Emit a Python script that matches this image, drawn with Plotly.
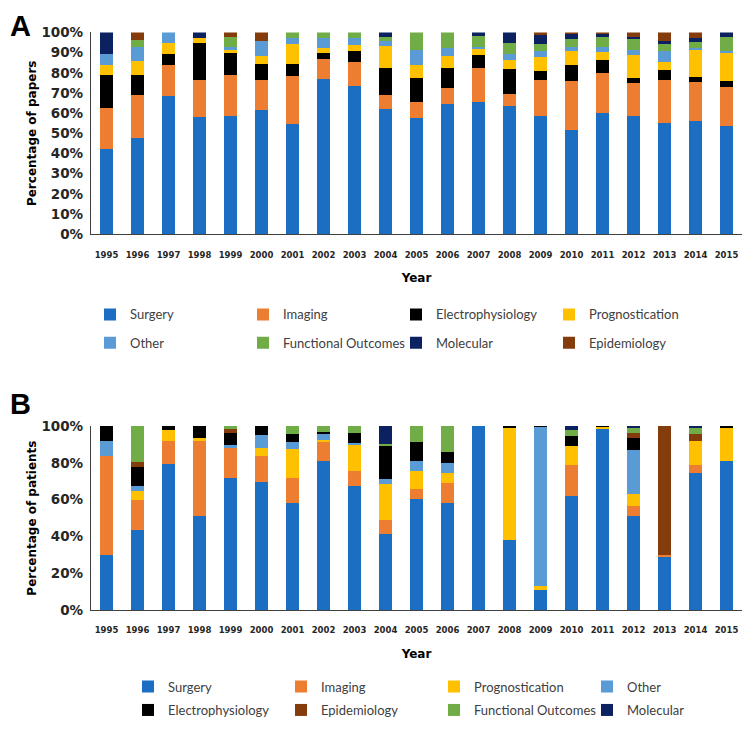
import plotly.graph_objects as go

years = [str(y) for y in range(1995, 2016)]

# Panel A - percentage of papers per topic (stack order bottom -> top)
papers_surgery = [42.0, 47.7, 68.3, 58.0, 58.6, 61.8, 54.7, 76.7, 73.5, 62.3, 57.4,
                  64.7, 65.5, 63.4, 58.6, 51.8, 60.2, 58.6, 55.3, 56.1, 53.7]
papers_imaging = [20.6, 21.1, 15.7, 18.5, 20.2, 14.7, 23.8, 10.2, 11.8, 6.5, 8.1,
                  7.6, 17.0, 6.2, 17.9, 23.9, 19.9, 16.2, 21.2, 19.1, 19.1]
papers_electro = [16.4, 10.2, 5.5, 18.3, 10.8, 8.1, 6.1, 2.9, 5.6, 13.4, 11.8,
                  9.9, 6.5, 12.1, 4.6, 8.0, 6.5, 2.5, 4.9, 2.5, 3.2]
papers_progn = [4.8, 6.9, 5.2, 2.4, 1.8, 3.6, 9.6, 2.4, 3.0, 11.3, 6.4,
                6.3, 2.9, 4.9, 6.8, 7.2, 3.7, 11.7, 4.0, 13.7, 13.8]
papers_other = [5.7, 7.1, 5.3, 0.0, 1.2, 7.8, 3.0, 4.9, 3.3, 2.3, 7.7,
                3.7, 1.1, 2.9, 2.7, 2.1, 2.7, 2.4, 5.2, 0.8, 0.8]
papers_functional = [0.0, 3.3, 0.0, 0.0, 5.3, 0.0, 2.8, 2.9, 2.8, 2.1, 8.6,
                     7.8, 5.4, 5.5, 3.7, 3.8, 4.9, 5.4, 3.7, 2.9, 7.0]
papers_molecular = [10.5, 0.0, 0.0, 2.9, 0.0, 0.0, 0.0, 0.0, 0.0, 2.1, 0.0,
                    0.0, 1.6, 5.0, 4.4, 2.2, 1.1, 0.8, 1.7, 2.0, 2.4]
papers_epidem = [0.0, 3.7, 0.0, 0.0, 2.1, 4.0, 0.0, 0.0, 0.0, 0.0, 0.0,
                 0.0, 0.0, 0.0, 1.3, 1.0, 1.0, 2.4, 4.0, 2.9, 0.0]

# Panel B - percentage of patients per topic
patients_surgery = [29.9, 43.6, 79.4, 51.0, 71.6, 69.6, 58.0, 81.2, 67.4, 41.1, 60.3,
                    58.0, 100.0, 37.9, 11.1, 62.1, 98.4, 51.0, 29.0, 74.6, 80.9]
patients_imaging = [54.0, 16.3, 12.7, 41.1, 16.4, 13.9, 13.6, 10.4, 8.4, 7.6, 5.4,
                    10.9, 0.0, 0.0, 0.0, 17.0, 0.0, 5.4, 0.9, 4.5, 0.0]
patients_progn = [0.0, 4.9, 5.8, 1.3, 0.0, 4.5, 15.9, 0.9, 14.0, 20.0, 9.8,
                  5.7, 0.0, 61.4, 1.8, 10.2, 1.2, 6.6, 0.0, 13.0, 18.2]
patients_other = [8.0, 2.6, 0.0, 0.0, 1.8, 7.2, 3.6, 3.0, 0.9, 2.3, 5.7,
                  5.4, 0.0, 0.0, 86.6, 0.0, 0.0, 23.8, 0.0, 0.0, 0.0]
patients_electro = [8.1, 10.4, 2.1, 6.6, 6.6, 4.8, 4.4, 1.1, 5.7, 17.9, 10.0,
                    5.7, 0.0, 0.7, 0.5, 5.3, 0.4, 6.6, 0.0, 0.0, 0.9]
patients_epidem = [0.0, 2.5, 0.0, 0.0, 1.8, 0.0, 0.0, 0.0, 0.0, 0.0, 0.0,
                   0.0, 0.0, 0.0, 0.0, 0.0, 0.0, 2.7, 70.1, 3.6, 0.0]
patients_functional = [0.0, 19.7, 0.0, 0.0, 1.8, 0.0, 4.5, 3.4, 3.6, 1.3, 8.8,
                       14.3, 0.0, 0.0, 0.0, 3.3, 0.0, 2.6, 0.0, 3.0, 0.0]
patients_molecular = [0.0, 0.0, 0.0, 0.0, 0.0, 0.0, 0.0, 0.0, 0.0, 9.8, 0.0,
                      0.0, 0.0, 0.0, 0.0, 2.1, 0.0, 1.3, 0.0, 1.3, 0.0]

colors = {
    "Surgery": "#1B6EC2",
    "Imaging": "#ED7D31",
    "Electrophysiology": "#000000",
    "Prognostication": "#FFC000",
    "Other": "#5B9BD5",
    "Functional Outcomes": "#70AD47",
    "Molecular": "#0B2160",
    "Epidemiology": "#843C0C",
}

series_a = [
    ("Surgery", papers_surgery, "legend"),
    ("Imaging", papers_imaging, "legend"),
    ("Electrophysiology", papers_electro, "legend"),
    ("Prognostication", papers_progn, "legend"),
    ("Other", papers_other, "legend2"),
    ("Functional Outcomes", papers_functional, "legend2"),
    ("Molecular", papers_molecular, "legend2"),
    ("Epidemiology", papers_epidem, "legend2"),
]
series_b = [
    ("Surgery", patients_surgery, "legend3"),
    ("Imaging", patients_imaging, "legend3"),
    ("Prognostication", patients_progn, "legend3"),
    ("Other", patients_other, "legend3"),
    ("Electrophysiology", patients_electro, "legend4"),
    ("Epidemiology", patients_epidem, "legend4"),
    ("Functional Outcomes", patients_functional, "legend4"),
    ("Molecular", patients_molecular, "legend4"),
]

fig = go.Figure()

for name, vals, leg in series_a:
    fig.add_trace(go.Bar(
        x=years, y=vals, name=name, legend=leg,
        marker=dict(color=colors[name], line=dict(width=0)),
        xaxis="x", yaxis="y",
    ))

for name, vals, leg in series_b:
    fig.add_trace(go.Bar(
        x=years, y=vals, name=name, legend=leg,
        marker=dict(color=colors[name], line=dict(width=0)),
        xaxis="x2", yaxis="y2",
    ))

# page body has an 8px margin all round; keep the figure inside the window
OFF = 8
W, H = 750 - 2 * OFF, 733 - 2 * OFF

def px(v):
    return (v - OFF) / W

def py(v):
    return 1 - (v - OFF) / H

x_dom = [px(91), px(742)]
ya_dom = [py(239), py(33)]
yb_dom = [py(623), py(435)]

tick_font = dict(family="DejaVu Sans", size=8.5, color="#262626")
ytick_font = dict(family="DejaVu Sans", size=13.5, color="#262626")
title_font = dict(family="DejaVu Sans", size=12, color="#000000")
axis_line = dict(showline=True, linecolor="#404040", linewidth=1.3)

def xaxis_cfg(anchor):
    return dict(domain=x_dom, anchor=anchor, type="category",
                tickfont=tick_font, tickprefix="<b>", ticksuffix="</b>",
                ticks="", ticklabelstandoff=12, showgrid=False, zeroline=False,
                title=dict(text="<b>Year</b>", font=title_font, standoff=15),
                automargin=False, **axis_line)

def yaxis_cfg(anchor, dom, dtick, title):
    return dict(domain=dom, anchor=anchor, range=[0, 100], dtick=dtick,
                tickfont=ytick_font, tickprefix="<b>", ticksuffix="%</b>",
                ticks="", ticklabelstandoff=4, showgrid=False, zeroline=False,
                title=dict(text=f"<b>{title}</b>", font=title_font, standoff=2),
                automargin=False, **axis_line)

leg_common = dict(orientation="h", xanchor="left", yanchor="middle",
                  entrywidth=108, entrywidthmode="pixels", traceorder="normal",
                  font=dict(family="Lato", size=13, color="#404040"),
                  bgcolor="rgba(0,0,0,0)", itemclick=False)

letter_font = dict(family="Liberation Sans", size=29, color="#000000")

fig.update_layout(
    width=W, height=H,
    barmode="stack", bargap=0.6,
    plot_bgcolor="white", paper_bgcolor="white",
    margin=dict(l=0, r=0, t=0, b=0),
    xaxis=xaxis_cfg("y"),
    yaxis=yaxis_cfg("x", ya_dom, 10, "Percentage of papers"),
    xaxis2=xaxis_cfg("y2"),
    yaxis2=yaxis_cfg("x2", yb_dom, 20, "Percentage of patients"),
    legend=dict(x=px(90), y=py(321), **leg_common),
    legend2=dict(x=px(90), y=py(350), **leg_common),
    legend3=dict(x=px(128), y=py(701), **leg_common),
    legend4=dict(x=px(128), y=py(725), **leg_common),
    annotations=[
        dict(text="<b>A</b>", x=0, y=1, xref="paper", yref="paper",
             xanchor="left", yanchor="top", showarrow=False, font=letter_font),
        dict(text="<b>B</b>", x=0, y=py(394), xref="paper", yref="paper",
             xanchor="left", yanchor="top", showarrow=False, font=letter_font),
    ],
)

fig.write_html("out.html")
